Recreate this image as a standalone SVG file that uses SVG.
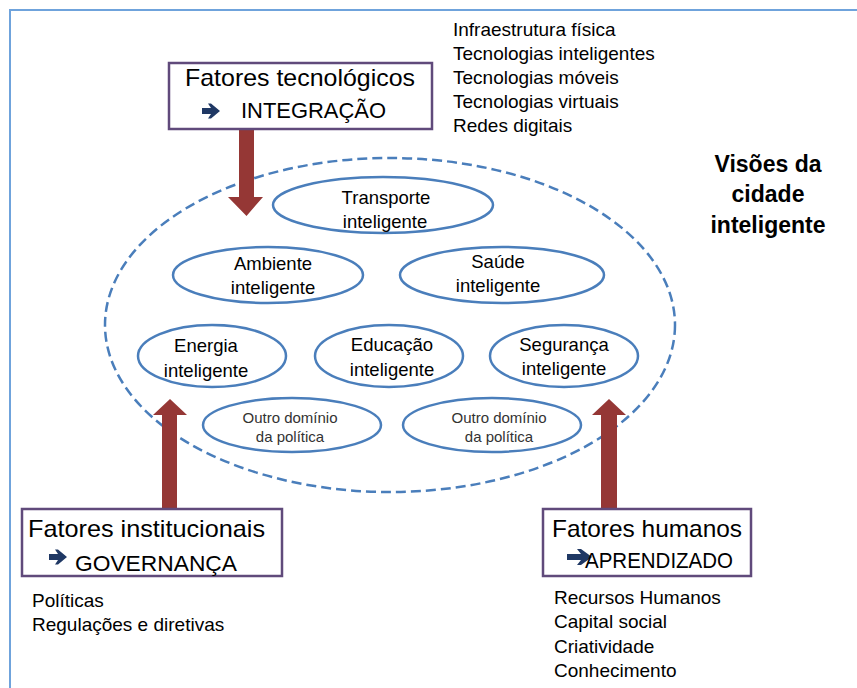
<svg xmlns="http://www.w3.org/2000/svg" width="857" height="688" viewBox="0 0 857 688">
<style>
text{font-family:"Liberation Sans",Arial,sans-serif;fill:#000}
.box{fill:#fff;stroke:#604a7b;stroke-width:2.5}
.ell{fill:#fff;stroke:#4a7ebb;stroke-width:2.5}
.big{fill:none;stroke:#4a7ebb;stroke-width:2.5;stroke-dasharray:10 5}
.red{fill:#953735}
.nav{fill:#1f3864}
.t24{font-size:24px}
.t22{font-size:22px}
.l19{font-size:19px}
.e19{font-size:18.5px;text-anchor:middle}
.o15{font-size:15px;text-anchor:middle;fill:#333}
.vis{font-size:23px;font-weight:bold;text-anchor:middle}
</style>
<rect x="0" y="0" width="857" height="688" fill="#fff"/>
<rect x="10" y="10" width="870" height="700" fill="none" stroke="#6fa3dc" stroke-width="2"/>

<g id="vision">
<ellipse class="big" cx="390" cy="325" rx="285" ry="167"/>
</g>

<g id="connectors">
<polygon class="red" points="239,130 254,130 254,197 263,197 246.5,216 228,197 239,197"/>
<polygon class="red" points="162,509 177,509 177,415 187,415 170,399 153,415 162,415"/>
<polygon class="red" points="601,509 617,509 617,415 626,415 609,399 592,415 601,415"/>
</g>

<g id="transporte">
<ellipse class="ell" cx="383" cy="205" rx="110" ry="28"/>
<text class="e19" x="386" y="204">Transporte</text>
<text class="e19" x="385" y="228">inteligente</text>
</g>
<g id="ambiente">
<ellipse class="ell" cx="268" cy="275" rx="95" ry="28"/>
<text class="e19" x="273" y="270">Ambiente</text>
<text class="e19" x="273" y="294">inteligente</text>
</g>
<g id="saude">
<ellipse class="ell" cx="502" cy="275" rx="102" ry="28"/>
<text class="e19" x="498" y="268">Saúde</text>
<text class="e19" x="498" y="292">inteligente</text>
</g>
<g id="energia">
<ellipse class="ell" cx="212" cy="356" rx="74" ry="31"/>
<text class="e19" x="206" y="352">Energia</text>
<text class="e19" x="206" y="377">inteligente</text>
</g>
<g id="educacao">
<ellipse class="ell" cx="389" cy="356" rx="74" ry="31"/>
<text class="e19" x="392" y="351">Educação</text>
<text class="e19" x="392" y="376">inteligente</text>
</g>
<g id="seguranca">
<ellipse class="ell" cx="564" cy="356" rx="74" ry="31"/>
<text class="e19" x="564" y="351">Segurança</text>
<text class="e19" x="564" y="375">inteligente</text>
</g>
<g id="outro1">
<ellipse class="ell" cx="292" cy="425" rx="89" ry="27"/>
<text class="o15" x="290" y="423">Outro domínio</text>
<text class="o15" x="290" y="442">da política</text>
</g>
<g id="outro2">
<ellipse class="ell" cx="492" cy="425" rx="89" ry="27"/>
<text class="o15" x="499" y="423">Outro domínio</text>
<text class="o15" x="499" y="442">da política</text>
</g>

<g id="tecnologicos">
<rect class="box" x="169" y="63" width="263" height="66"/>
<text class="t24" x="185" y="86" textLength="230" lengthAdjust="spacingAndGlyphs">Fatores tecnológicos</text>
<polygon class="nav" points="202,108 211,108 208,103.5 211,103.5 220,111 211,118.5 208,118.5 211,114 202,114"/>
<text class="t22" x="241" y="118" textLength="145" lengthAdjust="spacingAndGlyphs">INTEGRAÇÃO</text>
</g>
<g id="tec-list">
<text class="l19" x="453" y="36">Infraestrutura física</text>
<text class="l19" x="453" y="60">Tecnologias inteligentes</text>
<text class="l19" x="453" y="84">Tecnologias móveis</text>
<text class="l19" x="453" y="108">Tecnologias virtuais</text>
<text class="l19" x="453" y="132">Redes digitais</text>
</g>

<g id="visoes-title">
<text class="vis" x="768" y="172">Visões da</text>
<text class="vis" x="768" y="202">cidade</text>
<text class="vis" x="768" y="233">inteligente</text>
</g>

<g id="institucionais">
<rect class="box" x="22" y="509" width="260" height="67"/>
<text class="t24" x="28" y="537" textLength="237" lengthAdjust="spacingAndGlyphs">Fatores institucionais</text>
<polygon class="nav" points="49,554 58,554 55,549.5 58,549.5 67,557 58,564.5 55,564.5 58,560 49,560"/>
<text class="t22" x="75" y="571" textLength="162" lengthAdjust="spacingAndGlyphs">GOVERNANÇA</text>
</g>
<g id="inst-list">
<text class="l19" x="32" y="607">Políticas</text>
<text class="l19" x="32" y="631">Regulações e diretivas</text>
</g>

<g id="humanos">
<rect class="box" x="543" y="509" width="208" height="67"/>
<text class="t24" x="552" y="537" textLength="190" lengthAdjust="spacingAndGlyphs">Fatores humanos</text>
<polygon class="nav" points="567,554 581,554 577,549 581,549 592,557 581,565 577,565 581,560 567,560"/>
<text class="t22" x="585" y="568" textLength="148" lengthAdjust="spacingAndGlyphs">APRENDIZADO</text>
</g>
<g id="hum-list">
<text class="l19" x="554" y="604">Recursos Humanos</text>
<text class="l19" x="554" y="628">Capital social</text>
<text class="l19" x="554" y="653">Criatividade</text>
<text class="l19" x="554" y="677">Conhecimento</text>
</g>
</svg>
